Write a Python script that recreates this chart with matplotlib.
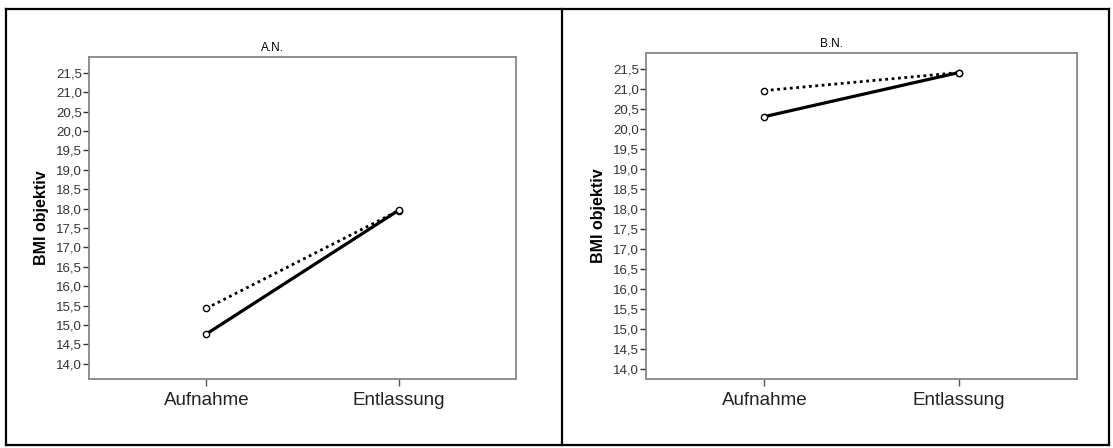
import matplotlib.pyplot as plt
from matplotlib.lines import Line2D

plt.rcParams['font.family'] = ['Liberation Sans', 'DejaVu Sans']

zeitpunkte = ["Aufnahme", "Entlassung"]
gruppen = ["A.N.", "B.N."]

# BMI objektiv, durchgezogene und gepunktete Linie je Gruppe
bmi_solid = {"A.N.": [14.77, 17.96], "B.N.": [20.32, 21.42]}
bmi_dotted = {"A.N.": [15.43, 17.95], "B.N.": [20.97, 21.42]}

yticks = [14.0, 14.5, 15.0, 15.5, 16.0, 16.5, 17.0, 17.5, 18.0, 18.5,
          19.0, 19.5, 20.0, 20.5, 21.0, 21.5]

W, H = 1113, 448
fig = plt.figure(figsize=(W / 100, H / 100), dpi=100)

# Achsenpositionen in Pixeln: links, oben, rechts, unten
boxes = [(89, 57, 516, 379), (646, 53, 1077, 379)]
ylims = [(13.61, 21.91), (13.76, 21.91)]

for g, (x0, y0, x1, y1), ylim in zip(gruppen, boxes, ylims):
    ax = fig.add_axes([x0 / W, 1 - y1 / H, (x1 - x0) / W, (y1 - y0) / H])
    xs = range(len(zeitpunkte))
    ax.plot(xs, bmi_dotted[g], color="black", lw=2.0, linestyle=(0, (1, 1.3)),
            marker="o", ms=4.5, mfc="white", mec="black", mew=1.0, zorder=3)
    ax.plot(xs, bmi_solid[g], color="black", lw=2.3, linestyle="-",
            marker="o", ms=4.5, mfc="white", mec="black", mew=1.0, zorder=3)
    ax.set_xlim(-0.61, 1.61)
    ax.set_ylim(*ylim)
    ax.set_xticks(list(xs))
    ax.set_xticklabels(zeitpunkte, fontsize=13.5, color="#222222")
    ax.set_yticks(yticks)
    ax.set_yticklabels([f"{v:.1f}".replace(".", ",") for v in yticks],
                       fontsize=9.5, color="#333333")
    ax.tick_params(axis="y", direction="out", length=4, width=1, color="#333333", pad=1)
    ax.tick_params(axis="x", direction="out", length=5, width=1, color="#555555", pad=4)
    for s in ax.spines.values():
        s.set_color("#888888")
        s.set_linewidth(1.3)
    ax.set_ylabel("BMI objektiv", fontsize=11.5, fontweight="bold", labelpad=5)
    ax.set_title(g, fontsize=8.5, x=0.43, pad=4, fontweight="medium")

# Rahmen um beide Diagramme
def fx(px):
    return px / W

def fy(py):
    return 1 - py / H

lw = 1.6
for xa, ya, xb, yb in [(6, 9, 1109, 9), (6, 445, 1109, 445), (6, 9, 6, 445),
                       (1109, 9, 1109, 445), (561.5, 9, 561.5, 445)]:
    fig.add_artist(Line2D([fx(xa), fx(xb)], [fy(ya), fy(yb)], color="black", lw=lw))

plt.savefig("out.png", dpi=100)
